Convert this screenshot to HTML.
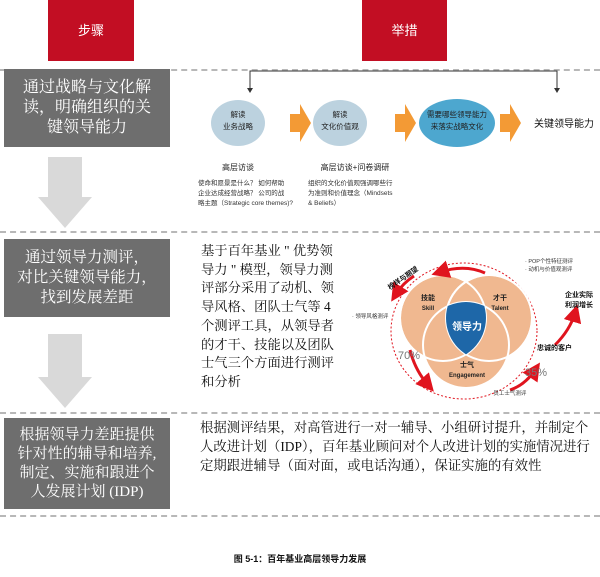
<!DOCTYPE html>
<html><head><meta charset="utf-8"><style>
body{margin:0;width:600px;height:577px;background:#fff;position:relative;overflow:hidden;font-family:"Liberation Sans","Noto Sans CJK SC",sans-serif}
.a{position:absolute}
.hdr{background:#c20e23;color:#fff;font-size:13px;text-align:center;line-height:61px;top:0;height:61px}
.dash{position:absolute;left:0;width:600px;height:0;border-top:2px dashed #b8b8b8}
.box{position:absolute;left:4px;width:166px;background:#6e6e6e;color:#fff;text-align:center;display:flex;align-items:center;justify-content:center;font-family:"Liberation Serif","Noto Serif CJK SC",serif;white-space:nowrap}
.txt{font-family:"Liberation Serif","Noto Serif CJK SC",serif;color:#111;white-space:nowrap}
</style></head><body>
<div class="a hdr" style="left:48px;width:86px">步骤</div>
<div class="a hdr" style="left:362px;width:85px">举措</div>
<div class="dash" style="top:69px"></div>
<div class="dash" style="top:231px"></div>
<div class="dash" style="top:412px"></div>
<div class="dash" style="top:515px"></div>

<div class="box" style="top:69px;height:78px;font-size:16px;line-height:20px">通过战略与文化解<br>读，明确组织的关<br>键领导能力</div>
<div class="box" style="top:239px;height:78px;font-size:15.5px;line-height:20px">通过领导力测评，<br>对比关键领导能力，<br>找到发展差距</div>
<div class="box" style="top:418px;height:91px;font-size:15px;line-height:19px">根据领导力差距提供<br>针对性的辅导和培养,<br>制定、实施和跟进个<br>人发展计划 (IDP)</div>

<svg class="a" style="left:0;top:0" width="600" height="577">
<polygon points="48,157 82,157 82,197 92,197 65,228 38,197 48,197" fill="#d9d9d9"/>
<polygon points="48,334 82,334 82,377 92,377 65,408 38,377 48,377" fill="#d9d9d9"/>
<polyline points="250,91 250,71 557,71 557,90" fill="none" stroke="#333" stroke-width="1"/>
<polygon points="247,88 253,88 250,93" fill="#333"/><polygon points="554,88 560,88 557,93" fill="#333"/>
<ellipse cx="238" cy="123" rx="27" ry="23" fill="#bcd2df"/>
<ellipse cx="340" cy="123" rx="27" ry="23" fill="#bcd2df"/>
<ellipse cx="457" cy="123" rx="38" ry="24" fill="#4da7cf"/>
<polygon points="290,114 300,114 300,104 311,123 300,142 300,132 290,132" fill="#f39a35"/>
<polygon points="395,114 405,114 405,104 416,123 405,142 405,132 395,132" fill="#f39a35"/>
<polygon points="500,114 510,114 510,104 521,123 510,142 510,132 500,132" fill="#f39a35"/>
<g font-size="7.5" fill="#222" text-anchor="middle">
<text x="238" y="117">解读</text><text x="238" y="129">业务战略</text>
<text x="340" y="117">解读</text><text x="340" y="129">文化价值观</text>
<text x="457" y="117">需要哪些领导能力</text><text x="457" y="129">来落实战略文化</text>
<text x="238" y="170" font-size="8">高层访谈</text>
<text x="355" y="170" font-size="8">高层访谈+问卷调研</text>
</g>
<text x="534" y="127" font-size="10" fill="#111">关键领导能力</text>
<g font-size="6.5" fill="#333">
<text x="198" y="185">使命和愿景是什么？ 如何帮助</text>
<text x="198" y="195">企业达成经营战略？ 公司的战</text>
<text x="198" y="205">略主题（Strategic core themes)?</text>
<text x="308" y="185">组织的文化价值观强调哪些行</text>
<text x="308" y="195">为准则和价值理念（Mindsets</text>
<text x="308" y="205">&amp; Beliefs）</text>
</g>
<defs>
<clipPath id="c1"><circle cx="443" cy="318" r="43"/></clipPath>
<clipPath id="c2"><circle cx="489" cy="318" r="43"/></clipPath>
<marker id="ar" markerWidth="6" markerHeight="6" refX="3" refY="3" orient="auto"><polygon points="0,0 6,3 0,6" fill="#e0141e"/></marker>
</defs>
<ellipse cx="464" cy="331" rx="73" ry="68" fill="none" stroke="#e0141e" stroke-width="1" stroke-dasharray="2,2"/>
<circle cx="443" cy="318" r="43" fill="#f0b890" stroke="#fff" stroke-width="2"/>
<circle cx="489" cy="318" r="43" fill="#f0b890" stroke="#fff" stroke-width="2"/>
<circle cx="466" cy="345" r="43" fill="#f0b890" stroke="#fff" stroke-width="2"/>
<circle cx="443" cy="318" r="43" fill="none" stroke="#fff" stroke-width="2"/>
<circle cx="489" cy="318" r="43" fill="none" stroke="#fff" stroke-width="2"/>
<g clip-path="url(#c1)"><g clip-path="url(#c2)"><circle cx="466" cy="345" r="43" fill="#1e67a8"/></g></g>
<g font-size="7" fill="#222" text-anchor="middle" font-weight="bold">
<text x="428" y="300">技能</text><text x="428" y="310" font-size="6">Skill</text>
<text x="500" y="300">才干</text><text x="500" y="310" font-size="6">Talent</text>
<text x="467" y="367">士气</text><text x="467" y="377" font-size="6">Engagement</text>
</g>
<text x="467" y="330" font-size="10" fill="#fff" text-anchor="middle" font-weight="bold">领导力</text>
<g fill="none" stroke="#e0141e" stroke-width="3" marker-end="url(#ar)">
<path d="M485,273 Q465,264 440,272"/>
<path d="M414,276 Q403,283 396,294"/>
<path d="M410,350 Q415,370 428,385"/>
<path d="M510,390 Q525,385 535,370"/>
<path d="M555,345 Q570,330 575,313"/>
</g>
<g font-size="5.5" fill="#333">
<text x="525" y="263">· POP个性特征测评</text>
<text x="525" y="271">· 动机与价值观测评</text>
<text x="352" y="318">· 领导风格测评</text>
<text x="490" y="395">· 员工士气测评</text>
</g>
<text x="398" y="359" font-size="11" fill="#777">70%</text>
<text x="525" y="376" font-size="11" fill="#777">35%</text>
<g font-size="7" font-weight="bold" fill="#111">
<text x="537" y="350">忠诚的客户</text>
<text x="565" y="297">企业实际</text><text x="565" y="307">利润增长</text>
<text x="0" y="0" transform="translate(390,290) rotate(-35)">榜样与期望</text>
</g>
</svg>

<div class="a txt" style="left:201px;top:242px;font-size:13.3px;line-height:18.7px">基于百年基业 " 优势领<br>导力 " 模型，领导力测<br>评部分采用了动机、领<br>导风格、团队士气等 4<br>个测评工具，从领导者<br>的才干、技能以及团队<br>士气三个方面进行测评<br>和分析</div>
<div class="a txt" style="left:200px;top:418px;font-size:13.4px;line-height:19px">根据测评结果，对高管进行一对一辅导、小组研讨提升，并制定个<br>人改进计划（IDP），百年基业顾问对个人改进计划的实施情况进行<br>定期跟进辅导（面对面，或电话沟通），保证实施的有效性</div>
<div class="a" style="left:0;width:600px;top:552px;text-align:center;font-size:9px;font-weight:bold;color:#111">图 5-1：百年基业高层领导力发展</div>
</body></html>
